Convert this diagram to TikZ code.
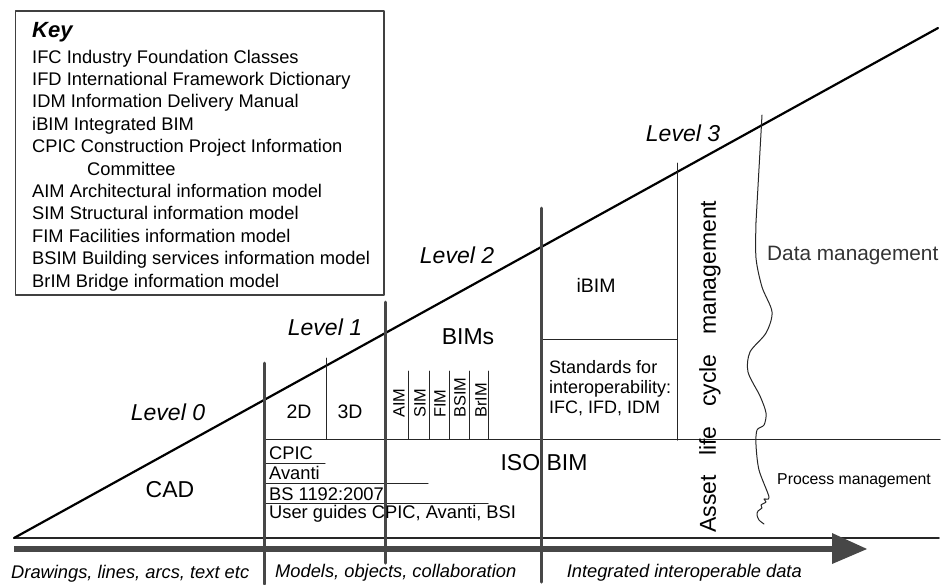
\documentclass[tikz,border=0pt]{standalone}
\usepackage{fontspec}
\setmainfont{Liberation Sans}

\begin{document}
\begin{tikzpicture}[x=1pt,y=-1pt,line cap=round,line join=round]
\tikzset{
    keybox/.style=  {line width=1.4pt, color=black!75},
    slope/.style=   {line width=2.2pt, color=black},
    rule/.style=    {line width=1pt, color=black!85},
    divider/.style= {line width=3pt, color=black!72},
    txt/.style=     {inner sep=0pt, font=\fontsize{18.3}{22}\selectfont},
    lvl/.style=     {inner sep=0pt, font=\fontsize{23}{26}\selectfont\itshape},
    bigtxt/.style=  {inner sep=0pt, font=\fontsize{23}{26}\selectfont},
    midtxt/.style=  {inner sep=0pt, font=\fontsize{19.5}{22}\selectfont},
    tag/.style=     {inner sep=0pt, rotate=90, anchor=west, font=\fontsize{16.4}{18}\selectfont}
}
\useasboundingbox (0,0) rectangle (944,584);

%% Key
\draw[keybox] (15.7,11) rectangle (384,295);
\node[txt, anchor=base west, font=\fontsize{22}{25}\selectfont\bfseries\itshape] (key) at (32,37) {Key};
\node[txt, anchor=base west] (k1) at (32,63) {IFC Industry Foundation Classes};
\node[txt, anchor=base west] (k2) at (32,85.4) {IFD International Framework Dictionary};
\node[txt, anchor=base west] (k3) at (32,107.8) {IDM Information Delivery Manual};
\node[txt, anchor=base west] (k4) at (32,130.2) {iBIM Integrated BIM};
\node[txt, anchor=base west] (k5) at (32,152.6) {CPIC Construction Project Information};
\node[txt, anchor=base west] (k6) at (87,175) {Committee};
\node[txt, anchor=base west] (k7) at (32,197.4) {AIM Architectural information model};
\node[txt, anchor=base west] (k8) at (32,219.8) {SIM Structural information model};
\node[txt, anchor=base west] (k9) at (32,242.2) {FIM Facilities information model};
\node[txt, anchor=base west] (k10) at (32,264.6) {BSIM Building services information model};
\node[txt, anchor=base west] (k11) at (32,287) {BrIM Bridge information model};

%% Axis, slope and arrow
\draw[rule, line width=1.5pt] (14,538) -- (939,538);
\draw[black!72, line width=6pt, line cap=butt] (14,549) -- (834,549);
\fill[black!72] (832,533) -- (867,549) -- (832,564) -- cycle;
\draw[slope] (14,538) -- (938,28);

%% Cells
\draw[rule] (264,439) -- (940,439);
\draw[rule] (326,358) -- (326,439);
\draw[rule] (408,371) -- (408,439);
\draw[rule] (429,371) -- (429,439);
\draw[rule] (449,371) -- (449,439);
\draw[rule] (469,371) -- (469,439);
\draw[rule] (488,371) -- (488,439);
\draw[rule] (264,463) -- (325,463);
\draw[rule] (264,483) -- (428,483);
\draw[rule] (264,503) -- (488,503);
\draw[rule] (541,339) -- (677,339);
\draw[rule] (677,163) -- (677,440);

%% Level dividers
\draw[divider] (264,363) -- (264,584);
\draw[divider] (385,302) -- (385,563);
\draw[divider] (541,208) -- (541,582);

%% Data / process boundary
\draw[rule] (762,115) -- (756,222);
\draw[rule] plot[smooth] coordinates {(756,222) (756,258) (762,287) (772,312) (766,333)
    (750,352) (748,372) (760,396) (766,413) (764,425) (757,430) (756,445) (759,470)
    (769,497) (764,499) (766,502) (761,505) (762,508) (758,511) (757,515) (759,520) (764,524)};

%% Labels
\node[lvl] (lev0) at (168,412) {Level 0};
\node[lvl] (lev1) at (325,327) {Level 1};
\node[lvl] (lev2) at (457,255) {Level 2};
\node[lvl] (lev3) at (683,133) {Level 3};
\node[bigtxt] (cad) at (170,490) {CAD};
\node[bigtxt] (bims) at (468,337) {BIMs};
\node[bigtxt] (iso) at (544,463) {ISO BIM};
\node[midtxt] (twod) at (299,412) {2D};
\node[midtxt] (threed) at (350,412) {3D};
\node[midtxt] (ibim) at (596,285) {iBIM};
\node[tag] (aim) at (399,418) {AIM};
\node[tag] (sim) at (420,418) {SIM};
\node[tag] (fim) at (440,418) {FIM};
\node[tag] (bsim) at (460,418) {BSIM};
\node[tag] (brim) at (481,418) {BrIM};
\node[txt, anchor=west] (cpic) at (269,453) {CPIC};
\node[txt, anchor=west] (avanti) at (269,473) {Avanti};
\node[txt, anchor=west] (bs) at (269,494) {BS 1192:2007};
\node[txt, anchor=west] (guides) at (269,514) {User guides CPIC, Avanti, BSI};
\node[txt, anchor=north west, align=left, font=\fontsize{18}{20}\selectfont] (std) at (549,360)
    {Standards for\\interoperability:\\IFC, IFD, IDM};
\node[bigtxt, rotate=90, anchor=west] (asset) at (710,533)
    {Asset\hspace{0.85em}life\hspace{0.85em}cycle\hspace{0.85em}management};
\node[txt, anchor=west, font=\fontsize{20.8}{24}\selectfont, text=black!80] (data) at (767,255) {Data management};
\node[txt, anchor=west, font=\fontsize{15.8}{18}\selectfont] (proc) at (777,481) {Process management};
\node[txt, anchor=west, font=\fontsize{18.3}{22}\selectfont\itshape] (cap1) at (11,574) {Drawings, lines, arcs, text etc};
\node[txt, anchor=west, font=\fontsize{18.3}{22}\selectfont\itshape] (cap2) at (275,573) {Models, objects, collaboration};
\node[txt, anchor=east, font=\fontsize{18.3}{22}\selectfont\itshape] (cap3) at (802,573) {Integrated interoperable data};

\end{tikzpicture}
\end{document}
